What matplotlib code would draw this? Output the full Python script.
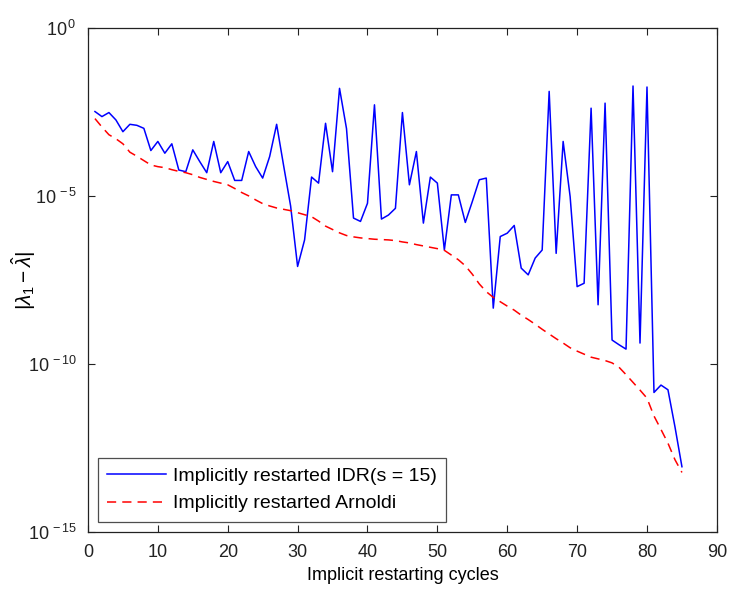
import numpy as np
import matplotlib
matplotlib.use("Agg")
import matplotlib.pyplot as plt
from matplotlib.ticker import NullLocator, FixedLocator

# restart cycle index
cycles = np.arange(1, 86)

# log10 of |lambda_1 - lambda_hat|
log_idr = [
    -2.49, -2.64, -2.52, -2.74, -3.09, -2.87, -2.90, -2.99, -3.65, -3.38,
    -3.73, -3.45, -4.23, -4.28, -3.63, -3.98, -4.31, -3.38, -4.31, -3.98,
    -4.54, -4.54, -3.68, -4.13, -4.47, -3.83, -2.87, -4.10, -5.30, -7.10,
    -6.31, -4.44, -4.62, -2.84, -4.28, -1.80, -3.00, -5.66, -5.76, -5.22,
    -2.29, -5.69, -5.57, -5.37, -2.52, -4.67, -3.68, -5.81, -4.44, -4.62,
    -6.61, -4.97, -4.97, -5.79, -5.17, -4.52, -4.47, -8.34, -6.21, -6.11,
    -5.88, -7.15, -7.35, -6.85, -6.61, -1.89, -6.71, -3.38, -5.02, -7.70,
    -7.60, -2.39, -8.24, -2.24, -9.29, -9.43, -9.56, -1.73, -9.38, -1.76,
    -10.85, -10.63, -10.77, -11.87, -13.06,
]
log_arnoldi = [
    -2.70, -2.95, -3.18, -3.30, -3.45, -3.70, -3.82, -3.95, -4.08, -4.13,
    -4.16, -4.22, -4.27, -4.31, -4.37, -4.45, -4.51, -4.57, -4.62, -4.67,
    -4.78, -4.90, -5.00, -5.12, -5.23, -5.30, -5.36, -5.40, -5.44, -5.50,
    -5.56, -5.62, -5.75, -5.90, -6.00, -6.10, -6.18, -6.22, -6.25, -6.27,
    -6.29, -6.30, -6.31, -6.33, -6.37, -6.40, -6.45, -6.49, -6.53, -6.57,
    -6.62, -6.76, -6.90, -7.08, -7.33, -7.62, -7.85, -8.02, -8.15, -8.28,
    -8.40, -8.55, -8.68, -8.82, -8.97, -9.11, -9.25, -9.38, -9.52, -9.62,
    -9.71, -9.80, -9.85, -9.90, -9.97, -10.10, -10.32, -10.55, -10.78, -11.02,
    -11.55, -11.95, -12.36, -12.85, -13.23,
]

xticks = [0, 10, 20, 30, 40, 50, 60, 70, 80, 90]
yticks = [1e0, 1e-5, 1e-10, 1e-15]
ytick_labels = [r"$10^{\,0}$", r"$10^{\,-5}$", r"$10^{\,-10}$", r"$10^{\,-15}$"]

plt.rcParams["font.family"] = ["Liberation Sans", "DejaVu Sans"]
plt.rcParams["mathtext.fontset"] = "custom"
plt.rcParams["mathtext.rm"] = "Liberation Sans"
plt.rcParams["mathtext.it"] = "Liberation Sans:italic"

fig = plt.figure(figsize=(7.33, 5.93), dpi=100)
ax = fig.add_axes([0.12, 0.103, 0.858, 0.850])

ax.semilogy(cycles, 10.0 ** np.array(log_idr), color="#0000ff", lw=1.1,
            label="Implicitly restarted IDR(s = 15)")
ax.semilogy(cycles, 10.0 ** np.array(log_arnoldi), color="#ff0000", lw=1.1,
            ls=(0, (6, 4)), label="Implicitly restarted Arnoldi")

ax.set_xlim(0, 90)
ax.set_ylim(1e-15, 1e0)
ax.xaxis.set_major_locator(FixedLocator(xticks))
ax.yaxis.set_major_locator(FixedLocator(yticks))
ax.yaxis.set_minor_locator(NullLocator())
ax.set_yticklabels(ytick_labels)
ax.tick_params(direction="in", top=True, right=True, length=5,
               width=0.8, labelsize=13, colors="#222222")
ax.tick_params(axis="x", pad=9)
ax.tick_params(axis="y", pad=8)
for sp in ax.spines.values():
    sp.set_linewidth(0.9)
    sp.set_color("#222222")

ax.set_xlabel("Implicit restarting cycles", fontsize=13, labelpad=4)
ax.set_ylabel(r"$|\lambda_1 - \hat{\lambda}|$", fontsize=15)
ax.yaxis.set_label_coords(-0.08, 0.5)

leg = ax.legend(loc="lower left", fontsize=14, frameon=True, fancybox=False,
                edgecolor="#222222", handlelength=3.0, handletextpad=0.35,
                borderpad=0.5, borderaxespad=0.5, labelspacing=0.5,
                bbox_to_anchor=(0.0, 0.0))
leg.get_frame().set_linewidth(0.9)

fig.savefig("out.png", dpi=100)
